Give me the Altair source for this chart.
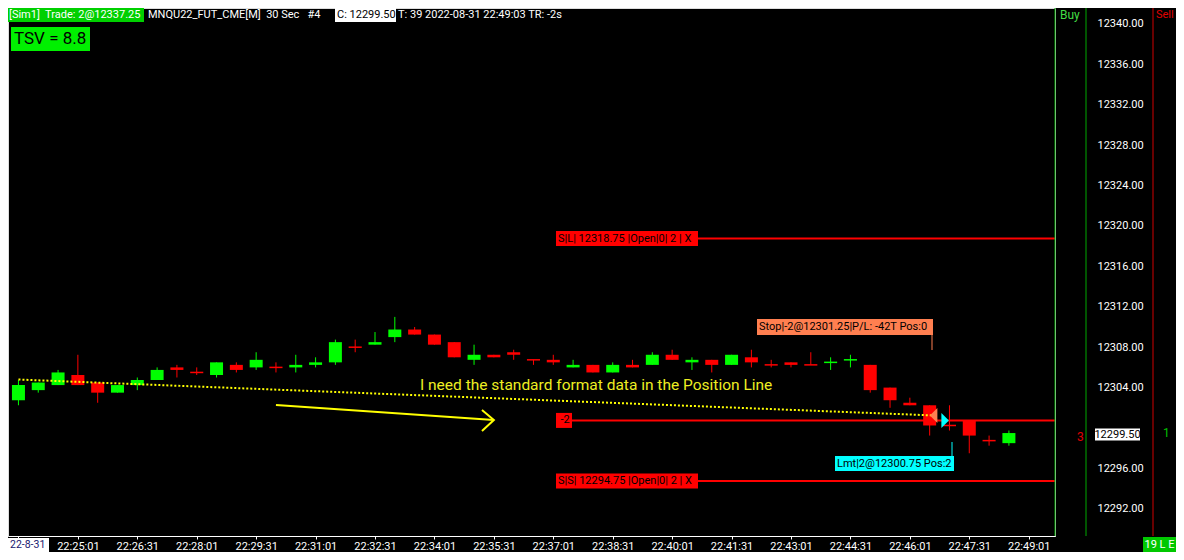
import json
import pandas as pd
import altair as alt

# ---------------- data ----------------
OPEN = [12302.75, 12303.75, 12304.25, 12305.25, 12304.5, 12303.5, 12304.25, 12304.75, 12306.0, 12305.5,
        12305.25, 12306.25, 12306.0, 12306.0, 12306.0, 12306.25, 12306.5, 12308.0, 12308.25, 12309.0,
        12309.75, 12309.25, 12308.5, 12306.75, 12307.25, 12307.5, 12306.75, 12306.75, 12306.0, 12306.25,
        12305.5, 12306.25, 12306.25, 12307.25, 12306.5, 12306.75, 12306.25, 12307.0, 12306.25, 12306.5,
        12306.25, 12306.5, 12306.75, 12306.25, 12304.0, 12302.5, 12302.25, 12300.25, 12300.75, 12298.75,
        12298.5]
HIGH = [12304.75, 12304.5, 12305.75, 12307.25, 12304.5, 12304.25, 12305.0, 12306.0, 12306.25, 12306.0,
        12306.5, 12306.5, 12307.5, 12306.5, 12307.25, 12307.0, 12308.75, 12308.75, 12309.5, 12311.0,
        12310.0, 12309.25, 12308.5, 12308.25, 12307.25, 12307.75, 12306.75, 12307.25, 12306.75, 12306.25,
        12306.5, 12306.75, 12307.5, 12307.75, 12307.0, 12306.75, 12307.25, 12307.75, 12306.75, 12306.5,
        12307.5, 12307.0, 12307.25, 12306.25, 12304.0, 12303.0, 12302.25, 12302.25, 12300.75, 12299.25,
        12299.75]
LOW = [12302.25, 12303.5, 12304.25, 12304.25, 12302.5, 12303.5, 12303.75, 12304.75, 12305.0, 12305.25,
       12305.0, 12305.5, 12305.75, 12305.5, 12305.5, 12306.0, 12306.25, 12307.5, 12308.25, 12308.5,
       12309.25, 12308.25, 12307.0, 12306.25, 12307.0, 12306.75, 12306.25, 12306.25, 12306.0, 12305.5,
       12305.5, 12306.0, 12306.25, 12306.75, 12305.75, 12305.5, 12306.25, 12306.0, 12306.0, 12306.0,
       12306.25, 12305.75, 12306.0, 12303.5, 12302.0, 12302.25, 12299.25, 12299.75, 12297.5, 12298.25,
       12298.25]
CLOSE = [12304.25, 12304.5, 12305.5, 12304.25, 12303.5, 12304.25, 12304.75, 12305.75, 12305.75, 12305.5,
         12306.5, 12305.75, 12306.75, 12306.0, 12306.25, 12306.5, 12308.5, 12308.0, 12308.5, 12309.75,
         12309.25, 12308.25, 12307.0, 12307.25, 12307.0, 12307.25, 12306.75, 12306.5, 12306.25, 12305.5,
         12306.25, 12306.0, 12307.25, 12306.75, 12306.75, 12306.25, 12307.25, 12306.5, 12306.25, 12306.25,
         12306.25, 12306.5, 12306.75, 12303.75, 12302.75, 12302.25, 12300.25, 12300.25, 12299.25, 12298.75,
         12299.5]

TIME_LABELS = ["22:25:01", "22:26:31", "22:28:01", "22:29:31", "22:31:01", "22:32:31", "22:34:01",
               "22:35:31", "22:37:01", "22:38:31", "22:40:01", "22:41:31", "22:43:01", "22:44:31",
               "22:46:01", "22:47:31", "22:49:01"]
DATE_LABEL = "22-8-31"
# 12300.00 sits behind the last-price box in the reference
Y_TICKS = [12292, 12296, 12304, 12308, 12312, 12316, 12320, 12324, 12328, 12332, 12336, 12340]

SL_PRICE = 12318.75
SS_PRICE = 12294.75
POS_PRICE = 12300.75
POS_QTY = -2
STOP_PRICE = 12301.25
LMT_PRICE = 12300.75
LAST_PRICE = 12299.50

TRAIL_K = [0.0, 46.1]
TRAIL_P = [12304.8, 12301.25]

ARROW_SEG = [0, 0, 1, 1, 1]
ARROW_K = [13.0, 24.0, 23.4, 24.0, 23.4]
ARROW_P = [12302.28, 12300.79, 12301.78, 12300.79, 12299.70]

STOP_FILL_K = 46.2
LMT_FILL_K = 46.78

NB = "\u00a0"
HEADER_1 = f"[Sim1]{NB} Trade: 2@12337.25"
HEADER_2 = f"MNQU22_FUT_CME[M]{NB} 30 Sec{NB}{NB} #4"
HEADER_3 = "C: 12299.50"
HEADER_4 = "T: 39 2022-08-31 22:49:03 TR: -2s"
TSV_TEXT = "TSV = 8.8"
NOTE_TEXT = "I need the standard format data in the Position Line"

# ---------------- styles ----------------
FONT = "Roboto"
GREEN = "#00FF00"
RED = "#FF0000"
YELLOW = "#FFFF00"
CYAN = "#00FFFF"
ORANGE = "#FF7F50"
LINE_GREEN = "#00A800"

W, H = 1047, 528

df = pd.DataFrame({"k": range(len(OPEN)), "o": OPEN, "h": HIGH, "l": LOW, "c": CLOSE})
dirs = []
for i, (o, c) in enumerate(zip(OPEN, CLOSE)):
    if c > o:
        dirs.append("up")
    elif c < o:
        dirs.append("down")
    else:
        dirs.append("up" if i > 0 and c > CLOSE[i - 1] else "down")
df["dir"] = dirs

lab_js = json.dumps(TIME_LABELS)
x_axis = alt.Axis(values=list(range(0, 52, 3)),
                  labelExpr=f"datum.value >= 3 ? {lab_js}[round(datum.value / 3) - 1] : ''",
                  title=None, grid=False, domainColor="white", domainWidth=1, tickColor="white",
                  tickSize=3, labelColor="white", labelFont=FONT, labelFontSize=11, labelPadding=1,
                  labelOverlap=False, labelFlush=False)
y_axis = alt.Axis(orient="right", values=Y_TICKS, format=".2f", title=None, grid=False, domain=False,
                  ticks=False, tickSize=0, labelColor="white", labelFont=FONT, labelFontSize=11,
                  labelPadding=0, offset=42, labelFlush=False, labelOverlap=False, labelAlign="left")

xs = alt.Scale(domain=[-0.275, 52.075], nice=False, zero=False)
ys = alt.Scale(domain=[12289.307, 12341.584], nice=False, zero=False)
cscale = alt.Scale(domain=["up", "down"], range=[GREEN, RED])
COLOR = alt.Color("dir:N", scale=cscale, legend=None)


def X(f):
    return alt.X(f, scale=xs, axis=x_axis)


def Y(f):
    return alt.Y(f, scale=ys, axis=y_axis)


ONE = pd.DataFrame({"v": [0]})


def txt(s, x, y, color="white", size=11, align="left", font=FONT):
    return alt.Chart(ONE).mark_text(text=s, align=align, baseline="middle", color=color,
                                    fontSize=size, font=font).encode(x=alt.value(x), y=alt.value(y))


def box(x1, x2, y1, y2, color):
    return alt.Chart(ONE).mark_rect(color=color).encode(
        x=alt.value(x1), x2=alt.value(x2), y=alt.value(y1), y2=alt.value(y2))


def vline(x, y1, y2, color, w=1):
    return alt.Chart(ONE).mark_rule(color=color, strokeWidth=w).encode(
        x=alt.value(x), y=alt.value(y1), y2=alt.value(y2))


# ---------------- candles ----------------
wicks = alt.Chart(df).mark_rule(strokeWidth=1).encode(
    x=X("k:Q"), y=Y("l:Q"), y2="h:Q", color=COLOR)
bodies = alt.Chart(df).transform_filter("datum.o != datum.c").mark_bar(size=13).encode(
    x=X("k:Q"), y=Y("o:Q"), y2="c:Q", color=COLOR)
doji = (alt.Chart(df).transform_filter("datum.o == datum.c")
        .transform_calculate(xl="datum.k - 0.33", xr="datum.k + 0.33")
        .mark_rule(strokeWidth=1.5).encode(x=X("xl:Q"), x2="xr:Q", y=Y("c:Q"), color=COLOR))

# ---------------- order / position lines ----------------
lines_df = pd.DataFrame({"p": [SL_PRICE, POS_PRICE, SS_PRICE]})
price_lines = alt.Chart(lines_df).mark_rule(color=RED, strokeWidth=2).encode(
    x=alt.value(548), x2=alt.value(W), y=Y("p:Q"))

ord_df = pd.DataFrame({"p": [SL_PRICE, SS_PRICE],
                       "t": [f"S|L| {SL_PRICE:.2f} |Open|0| 2 | X", f"S|S| {SS_PRICE:.2f} |Open|0| 2 | X"]})
ord_boxes = alt.Chart(ord_df).mark_rect(color=RED, yOffset=-7.5, y2Offset=7.5).encode(
    x=alt.value(548), x2=alt.value(690), y=Y("p:Q"), y2="p:Q")
ord_text = alt.Chart(ord_df).mark_text(align="left", baseline="middle", color="black", fontSize=11,
                                       font=FONT).encode(x=alt.value(550), y=Y("p:Q"), text="t:N")

pos_df = pd.DataFrame({"p": [POS_PRICE], "t": [f"{POS_QTY}"]})
pos_box = alt.Chart(pos_df).mark_rect(color=RED, yOffset=-7.5, y2Offset=7.5).encode(
    x=alt.value(548), x2=alt.value(564), y=Y("p:Q"), y2="p:Q")
pos_text = alt.Chart(pos_df).mark_text(align="center", baseline="middle", color="black", fontSize=11,
                                       font=FONT).encode(x=alt.value(557), y=Y("p:Q"), text="t:N")

# stop / limit labels
stop_box = box(749, 925, 311, 327, ORANGE)
stop_text = txt(f"Stop|-2@{STOP_PRICE:.2f}|P/L: -42T Pos:0", 751, 319, color="black")
stop_line = vline(924, 327, 342, ORANGE)
lmt_box = box(827, 946, 448, 463, CYAN)
lmt_text = txt(f"Lmt|2@{LMT_PRICE:.2f} Pos:2", 829, 455.5, color="black")
lmt_line = vline(944, 434, 448, CYAN)

# ---------------- yellow annotations ----------------
trail = alt.Chart(pd.DataFrame({"k": TRAIL_K, "p": TRAIL_P})).mark_line(
    color=YELLOW, strokeWidth=2, strokeDash=[2, 2]).encode(x=X("k:Q"), y=Y("p:Q"))
arrow = alt.Chart(pd.DataFrame({"k": ARROW_K, "p": ARROW_P, "s": ARROW_SEG,
                                "i": range(len(ARROW_K))})).mark_line(
    color=YELLOW, strokeWidth=2).encode(x=X("k:Q"), y=Y("p:Q"), detail="s:N", order="i:Q")
note = txt(NOTE_TEXT, 412, 377, color="#EEEE22", size=15.5)

stop_fill = alt.Chart(pd.DataFrame({"k": [STOP_FILL_K], "p": [STOP_PRICE]})).mark_point(
    shape="M0.5,-1L0.5,1L-0.5,0Z", filled=True, size=225, opacity=1, color=ORANGE, strokeWidth=0
).encode(x=X("k:Q"), y=Y("p:Q"))
lmt_fill = alt.Chart(pd.DataFrame({"k": [LMT_FILL_K], "p": [LMT_PRICE]})).mark_point(
    shape="M-0.5,-1L-0.5,1L0.5,0Z", filled=True, size=225, opacity=1, color=CYAN, strokeWidth=0
).encode(x=X("k:Q"), y=Y("p:Q"))

# ---------------- right side columns ----------------
right = [
    vline(W, 0, H, LINE_GREEN),
    vline(1078, 0, H, LINE_GREEN),
    vline(1145, 0, H, "#D00000"),
    txt("Buy", 1052, 7, color="#44DD44", size=12),
    txt("Sell", 1148, 7, color="#E00000", size=11),
    txt("3", 1069, 429, color="#E00000", size=12),
    txt("1", 1155, 425, color="#00C000", size=12),
]
last_df = pd.DataFrame({"p": [LAST_PRICE], "t": [f"{LAST_PRICE:.2f}"]})
last_box = alt.Chart(last_df).mark_rect(color="white", yOffset=-4.5, y2Offset=7.5).encode(
    x=alt.value(1087), x2=alt.value(1132), y=Y("p:Q"), y2="p:Q")
last_text = alt.Chart(last_df).mark_text(align="center", baseline="middle", color="black", fontSize=11,
                                         font=FONT, dy=1.5).encode(x=alt.value(1109.5), y=Y("p:Q"),
                                                                    text="t:N")

# ---------------- header / footer ----------------
header = [
    box(0, 136, 0, 14, "#00D000"),
    txt(HEADER_1, 1, 7),
    txt(HEADER_2, 140, 7),
    box(327, 388, 0, 14, "white"),
    txt(HEADER_3, 329, 7, color="black"),
    txt(HEADER_4, 390, 7),
    box(3, 82, 19, 43, "#00F000"),
    txt(TSV_TEXT, 6, 31, color="black", size=17),
]
footer = [
    box(0, 41, 530, 544, "white"),
    txt(DATE_LABEL, 2, 537, color="#202070", size=10.5),
    box(1135, 1168, 529, 544, "#00C800"),
    txt("19 L E", 1151.5, 537, color="white", size=11, align="center"),
]

layers = [wicks, price_lines, bodies, doji, trail, arrow, note,
          ord_boxes, ord_text, pos_box, pos_text,
          stop_line, stop_box, stop_text, lmt_line, lmt_box, lmt_text, stop_fill, lmt_fill,
          *right, last_box, last_text, *header, *footer]

chart = alt.layer(*layers).properties(
    width=W, height=H,
    padding={"left": 0, "top": 0, "right": 121, "bottom": 16},
    autosize=alt.AutoSizeParams(type="none"),
    background="black",
).configure_view(strokeWidth=0).configure(font=FONT)

chart.save("out.html", embed_options={"renderer": "svg", "actions": False})
